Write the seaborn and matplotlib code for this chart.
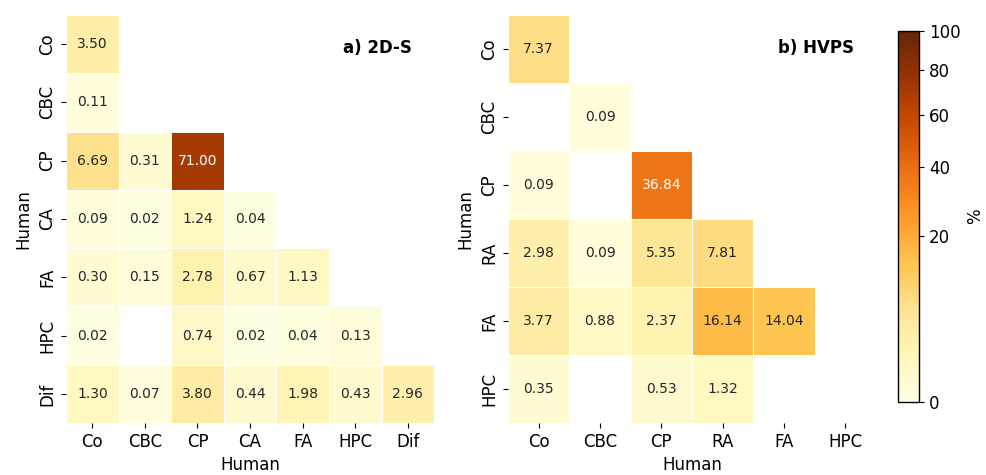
import numpy as np
import matplotlib
matplotlib.use("Agg")
import matplotlib.pyplot as plt
import seaborn as sns
from matplotlib.colors import PowerNorm

nan = np.nan

# 2D-S classes and values (%)
labels_2ds = ["Co", "CBC", "CP", "CA", "FA", "HPC", "Dif"]
vals_2ds = [
    [3.50, nan, nan, nan, nan, nan, nan],
    [0.11, nan, nan, nan, nan, nan, nan],
    [6.69, 0.31, 71.00, nan, nan, nan, nan],
    [0.09, 0.02, 1.24, 0.04, nan, nan, nan],
    [0.30, 0.15, 2.78, 0.67, 1.13, nan, nan],
    [0.02, nan, 0.74, 0.02, 0.04, 0.13, nan],
    [1.30, 0.07, 3.80, 0.44, 1.98, 0.43, 2.96],
]

# HVPS classes and values (%)
labels_hvps = ["Co", "CBC", "CP", "RA", "FA", "HPC"]
vals_hvps = [
    [7.37, nan, nan, nan, nan, nan],
    [nan, 0.09, nan, nan, nan, nan],
    [0.09, nan, 36.84, nan, nan, nan],
    [2.98, 0.09, 5.35, 7.81, nan, nan],
    [3.77, 0.88, 2.37, 16.14, 14.04, nan],
    [0.35, nan, 0.53, 1.32, nan, nan],
]

cbar_ticks = [0, 20, 40, 60, 80, 100]

fig = plt.figure(figsize=(9.87, 4.75), dpi=100)
ax1 = fig.add_axes([0.0669, 0.1095, 0.3729, 0.859])
ax2 = fig.add_axes([0.5147, 0.1095, 0.3729, 0.859])
cax = fig.add_axes([0.910, 0.1537, 0.0213, 0.781])

norm = PowerNorm(gamma=0.5, vmin=0, vmax=100)

panels = [(ax1, vals_2ds, labels_2ds, "a) 2D-S"),
          (ax2, vals_hvps, labels_hvps, "b) HVPS")]

for i, (ax, vals, labs, title) in enumerate(panels):
    arr = np.array(vals, dtype=float)
    sns.heatmap(arr, ax=ax, mask=np.isnan(arr), cmap="YlOrBr", norm=norm,
                annot=True, fmt=".2f", annot_kws={"fontsize": 10},
                linewidths=0.5, linecolor="white",
                xticklabels=labs, yticklabels=labs,
                cbar=(i == 0), cbar_ax=cax if i == 0 else None,
                cbar_kws={"label": "%", "ticks": cbar_ticks})
    ax.set_xlabel("Human", fontsize=12)
    ax.set_ylabel("Human", fontsize=12)
    ax.tick_params(axis="both", labelsize=12)
    ax.text(0.94, 0.92, title, transform=ax.transAxes, ha="right", va="center",
            fontsize=12, fontweight="bold")

# colorbar frame and labels
cb = ax1.collections[0].colorbar
cb.outline.set_linewidth(1.0)
cb.outline.set_edgecolor("black")
cax.set_yticklabels([str(t) for t in cbar_ticks])
cax.tick_params(labelsize=12)
cax.yaxis.label.set_size(12)

fig.savefig("out.png", dpi=100)
